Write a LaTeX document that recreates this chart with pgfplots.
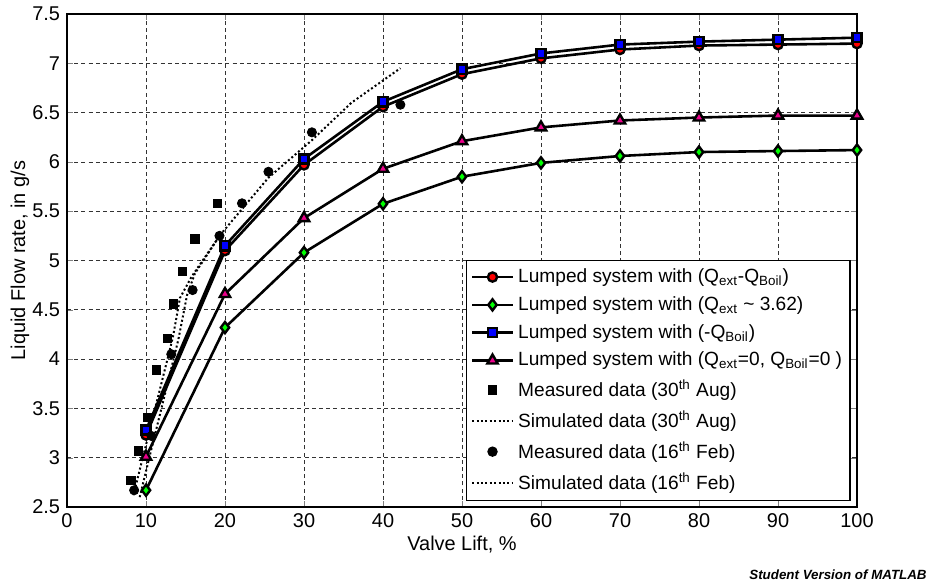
\documentclass[border=0pt]{standalone}
\usepackage{fontspec}
\setmainfont{Liberation Sans}
\usepackage{pgfplots}
\pgfplotsset{compat=1.18}
\begin{document}
\begin{tikzpicture}
\begin{axis}[
  name=ax, at={(0,0)}, anchor=south west,
  scale only axis, width=395bp, height=246.5bp,
  xmin=0, xmax=100, ymin=2.5, ymax=7.5,
  xtick={0,10,...,100},
  ytick={2.5,3,3.5,4,4.5,5,5.5,6,6.5,7,7.5},
  yticklabels={2.5,3,3.5,4,4.5,5,5.5,6,6.5,7,7.5},
  /pgf/number format/assume math mode=true,
  tick label style={font=\fontsize{10}{11}\selectfont},
  label style={font=\fontsize{9.3}{10}\selectfont},
  tick align=inside, tick pos=both, major tick length=3bp,
  grid=major,
  major grid style={black!80, line width=0.4pt, dash pattern=on 2bp off 1.6bp},
  axis line style={line width=0.6pt},
  xlabel={Valve Lift, \%},
  ylabel={Liquid Flow rate, in g/s},
  every axis x label/.style={at={(axis description cs:0.5,-0.077)}, anchor=center},
  every axis y label/.style={at={(axis description cs:-0.0595,0.5)}, rotate=90, anchor=center},
  legend cell align=left,
  legend style={at={(0.992,0.012)}, anchor=south east, draw=black, line width=0.6pt,
    fill=white, font=\fontsize{9.6}{10}\selectfont, row sep=1.5bp, inner sep=2bp},
  legend image code/.code={\draw[mark repeat=2,mark phase=2] plot coordinates {(0cm,0cm)(0.36cm,0cm)(0.72cm,0cm)};},
]
% Lumped (Qext-QBoil)
\addplot[black, line width=1.3pt, mark=*, mark size=2.3bp,
  mark options={fill=red, draw=black, line width=1.2pt, solid}] coordinates {
(10,3.23)(20,5.10)(30,5.97)(40,6.56)(50,6.89)(60,7.05)(70,7.14)(80,7.18)(90,7.19)(100,7.20)};
\addlegendentry{Lumped system with (Q\textsubscript{ext}-Q\textsubscript{Boil})}
% Lumped (Qext ~ 3.62)
\addplot[black, line width=1.3pt, mark=diamond*, mark size=2.8bp,
  mark options={fill=green, draw=black, line width=1.2pt, solid}] coordinates {
(10,2.67)(20,4.32)(30,5.08)(40,5.575)(50,5.85)(60,5.99)(70,6.06)(80,6.10)(90,6.11)(100,6.12)};
\addlegendentry{Lumped system with (Q\textsubscript{ext} \textasciitilde{} 3.62)}
% Lumped (-QBoil)
\addplot[black, line width=1.3pt, mark=square*, mark size=2.3bp,
  mark options={fill=blue, draw=black, line width=1.2pt, solid}] coordinates {
(10,3.28)(20,5.15)(30,6.03)(40,6.61)(50,6.94)(60,7.10)(70,7.19)(80,7.22)(90,7.24)(100,7.26)};
\addlegendentry{Lumped system with (-Q\textsubscript{Boil})}
% Lumped (Qext=0, QBoil=0)
\addplot[black, line width=1.3pt, mark=triangle*, mark size=3bp,
  mark options={fill=magenta, draw=black, line width=1.2pt, solid}] coordinates {
(10,3.01)(20,4.66)(30,5.43)(40,5.93)(50,6.21)(60,6.35)(70,6.42)(80,6.45)(90,6.47)(100,6.47)};
\addlegendentry{Lumped system with (Q\textsubscript{ext}=0, Q\textsubscript{Boil}=0 )}
% Measured 30 Aug
\addplot[only marks, mark=square*, mark size=2.1bp, black,
  legend image code/.code={\draw plot coordinates {(0.36cm,0cm)};}] coordinates {
(8.1,2.77)(9.0,3.07)(10.2,3.41)(11.35,3.89)(12.7,4.21)(13.5,4.56)(14.6,4.89)(16.2,5.22)(19.0,5.58)};
\addlegendentry{Measured data (30\textsuperscript{th} Aug)}
% Simulated 30 Aug
\addplot[black, line width=1pt, dash pattern=on 1bp off 1.2bp] coordinates {
(8.4,2.62)(10,3.13)(12,3.77)(13.4,4.22)(14.3,4.62)(15.8,4.84)(19.4,5.26)(25.5,5.84)(31,6.22)(36,6.60)(42.2,6.95)};
\addlegendentry{Simulated data (30\textsuperscript{th} Aug)}
% Measured 16 Feb
\addplot[only marks, mark=*, mark size=2.3bp, black,
  legend image code/.code={\draw plot coordinates {(0.36cm,0cm)};}] coordinates {
(8.5,2.67)(10.7,3.22)(13.2,4.05)(15.9,4.70)(19.3,5.25)(22.15,5.58)(25.5,5.90)(31.0,6.30)(42.2,6.58)};
\addlegendentry{Measured data (16\textsuperscript{th} Feb)}
% Simulated 16 Feb
\addplot[black, line width=1pt, dash pattern=on 1bp off 1.2bp] coordinates {
(9.2,2.60)(11,3.19)(13,3.84)(14.1,4.20)(15.2,4.65)(16.2,4.87)(19.4,5.26)};
\addlegendentry{Simulated data (16\textsuperscript{th} Feb)}
\end{axis}
\node[anchor=south east, inner sep=0pt, font=\fontsize{6.7}{7}\selectfont\bfseries\itshape] at (430bp,-36.5bp) {Student Version of MATLAB};
\pgfresetboundingbox
\useasboundingbox (-33.5bp,-39.5bp) rectangle (430.5bp,253.5bp);
\end{tikzpicture}
\end{document}
